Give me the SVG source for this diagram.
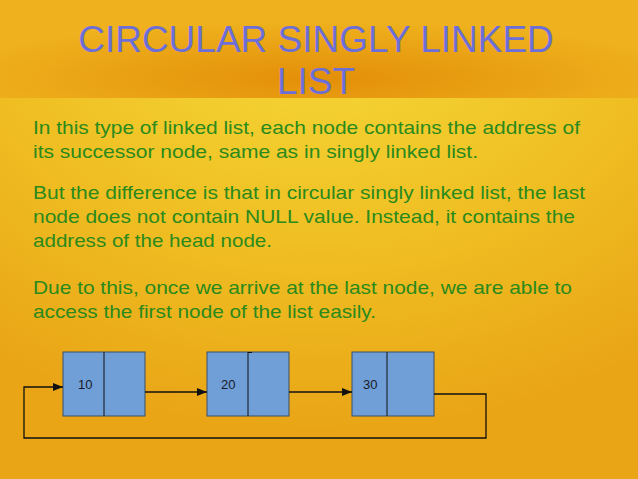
<svg xmlns="http://www.w3.org/2000/svg" width="638" height="479" viewBox="0 0 638 479">
<defs>
<radialGradient id="hd" cx="0.5" cy="0.8" r="0.6"><stop offset="0" stop-color="#e38f08"/><stop offset="1" stop-color="#efb21e"/></radialGradient>
<radialGradient id="bd" cx="0.5" cy="0" r="0.9"><stop offset="0" stop-color="#f6dc3a"/><stop offset="0.6" stop-color="#efbd22"/><stop offset="1" stop-color="#e9a516"/></radialGradient>
<marker id="ar" markerWidth="10" markerHeight="8" refX="10" refY="4" orient="auto" markerUnits="userSpaceOnUse"><path d="M0,0L10,4L0,8z" fill="#111"/></marker>
<style>
.t{font-family:"Liberation Sans",Arial,sans-serif;font-size:18.5px;fill:#2a8a1c}
.h{font-family:"Liberation Sans",Arial,sans-serif;font-size:37px;fill:#6d6fd8;text-anchor:middle}
.n{fill:#6f9fd6;stroke:#3a4f6a;stroke-width:1}
.l{font-family:"Liberation Sans",Arial,sans-serif;font-size:13px;fill:#1a1a2a}
.c{fill:none;stroke:#111;stroke-width:1.3}
</style>
</defs>
<rect width="638" height="479" fill="url(#bd)"/>
<rect width="638" height="98" fill="url(#hd)"/>
<text class="h" x="316" y="52">CIRCULAR SINGLY LINKED</text>
<text class="h" x="316" y="94">LIST</text>
<g>
<text class="t" x="33" y="134" textLength="547" lengthAdjust="spacingAndGlyphs">In this type of linked list, each node contains the address of</text>
<text class="t" x="33" y="158" textLength="445" lengthAdjust="spacingAndGlyphs">its successor node, same as in singly linked list.</text>
<text class="t" x="33" y="199" textLength="552" lengthAdjust="spacingAndGlyphs">But the difference is that in circular singly linked list, the last</text>
<text class="t" x="33" y="223" textLength="542" lengthAdjust="spacingAndGlyphs">node does not contain NULL value. Instead, it contains the</text>
<text class="t" x="33" y="247" textLength="239" lengthAdjust="spacingAndGlyphs">address of the head node.</text>
<text class="t" x="33" y="294" textLength="539" lengthAdjust="spacingAndGlyphs">Due to this, once we arrive at the last node, we are able to</text>
<text class="t" x="33" y="318" textLength="343" lengthAdjust="spacingAndGlyphs">access the first node of the list easily.</text>
</g>
<g id="node1"><rect class="n" x="63" y="352" width="82" height="64"/><line x1="104" y1="352" x2="104" y2="416" stroke="#111"/><text class="l" x="78" y="389">10</text></g>
<g id="node2"><rect class="n" x="207" y="352" width="82" height="64"/><line x1="248" y1="352" x2="248" y2="416" stroke="#111"/><path d="M248,352.5h4" stroke="#111"/><text class="l" x="221" y="389">20</text></g>
<g id="node3"><rect class="n" x="352" y="352" width="82" height="64"/><line x1="387" y1="352" x2="387" y2="416" stroke="#111"/><text class="l" x="363" y="389">30</text></g>
<g id="connectors">
<line class="c" x1="145" y1="392" x2="207" y2="392" marker-end="url(#ar)"/>
<line class="c" x1="289" y1="392" x2="352" y2="392" marker-end="url(#ar)"/>
<path class="c" d="M434,394H486V438H24V387H63" marker-end="url(#ar)"/>
</g>
</svg>
